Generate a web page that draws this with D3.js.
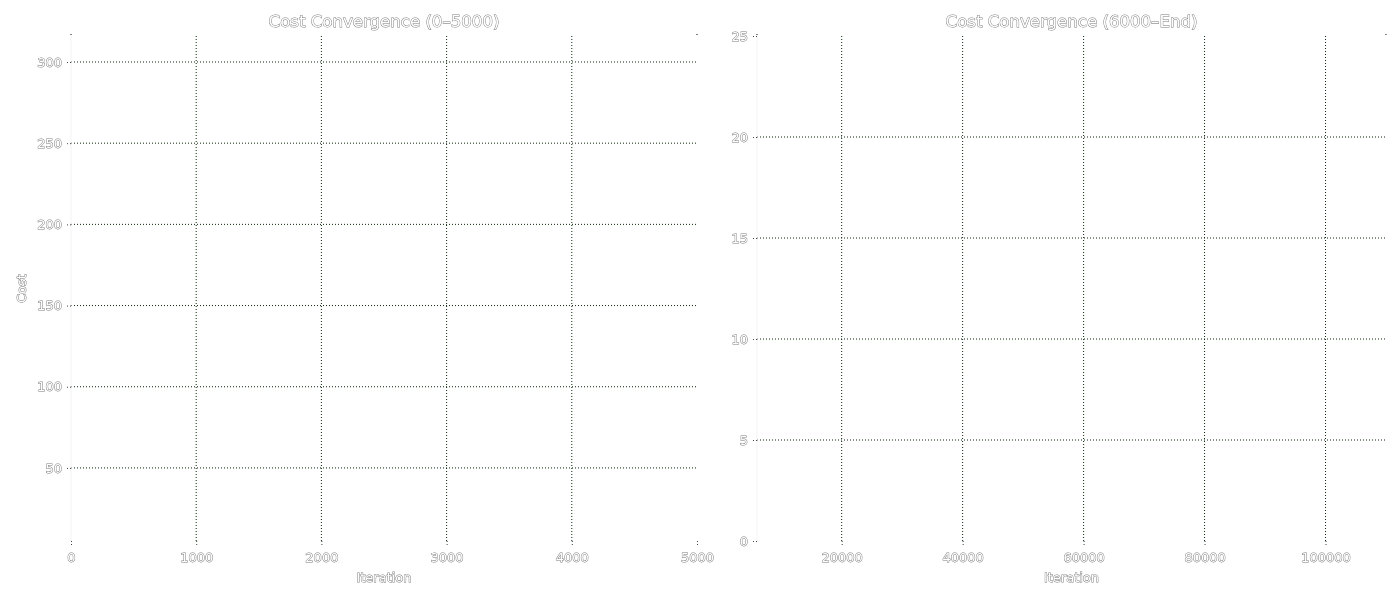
<!DOCTYPE html>
<html><head><meta charset="utf-8">
<script src="https://cdn.jsdelivr.net/npm/d3@7"></script>
<style>
body{margin:0;background:#fff;}
svg{will-change:transform;}
text{font-family:"DejaVu Sans",sans-serif;fill:#fff;stroke:#7a7a7a;stroke-width:0.95px;paint-order:stroke;opacity:0.99;}
</style></head><body>
<svg id="c" width="1400" height="600"></svg>
<script>
const leftTitle = "Cost Convergence (0–5000)";
const rightTitle = "Cost Convergence (6000–End)";
const xLabel = "Iteration";
const yLabel = "Cost";
const leftXDomain = [0, 5000];
const leftYDomain = [5, 316];
const leftXTicks = [0, 1000, 2000, 3000, 4000, 5000];
const leftYTicks = [50, 100, 150, 200, 250, 300];
const rightXDomain = [6000, 110000];
const rightYDomain = [0, 25];
const rightXTicks = [20000, 40000, 60000, 80000, 100000];
const rightYTicks = [0, 5, 10, 15, 20, 25];

const svg = d3.select("#c");
const gridColor = "#0a260a";

function panel(cfg){
  const {x0,x1,y0,y1} = cfg;
  const x = d3.scaleLinear().domain(cfg.xDomain).range([x0,x1]);
  const y = d3.scaleLinear().domain(cfg.yDomain).range([y1,y0]);
  const g = svg.append("g");
  g.selectAll(".vg").data(cfg.xTicks.filter(t=>x(t)>x0+1 && x(t)<x1-1)).join("line")
    .attr("x1",d=>x(d)).attr("x2",d=>x(d)).attr("y1",y0).attr("y2",y1)
    .attr("stroke",gridColor).attr("stroke-width",1).attr("stroke-dasharray","1,2");
  g.selectAll(".hg").data(cfg.yTicks.filter(t=>y(t)>y0+1 && y(t)<y1-1)).join("line")
    .attr("x1",x0).attr("x2",x1).attr("y1",d=>y(d)).attr("y2",d=>y(d))
    .attr("stroke",gridColor).attr("stroke-width",1).attr("stroke-dasharray","1,2");
  g.append("line").attr("x1",x0).attr("x2",x0).attr("y1",y0).attr("y2",y1).attr("stroke","#f4f4f4");
  const xa = g.append("g").attr("transform",`translate(0,${y1})`)
    .call(d3.axisBottom(x).tickValues(cfg.xTicks).tickFormat(d3.format("d")).tickSize(5).tickPadding(7));
  const ya = g.append("g").attr("transform",`translate(${x0},0)`)
    .call(d3.axisLeft(y).tickValues(cfg.yTicks).tickFormat(d3.format("d")).tickSize(5).tickPadding(4));
  [xa,ya].forEach(a=>{
    a.select(".domain").remove();
    a.selectAll(".tick line").attr("stroke","#444").attr("stroke-dasharray","1,2");
    a.selectAll(".tick text").style("font-size","13px").attr("fill",null);
  });
  g.selectAll(".cm").data([[x0,y0-2],[x1,y0-2]]).join("path")
    .attr("d",d=>`M${d[0]-1},${d[1]+1}L${d[0]},${d[1]}L${d[0]+1},${d[1]+1}`)
    .attr("fill","none").attr("stroke","#666").attr("stroke-width",0.8);
  g.append("text").attr("x",(x0+x1)/2).attr("y",27).attr("text-anchor","middle")
    .style("font-size","16.6px").text(cfg.title);
  g.append("text").attr("x",(x0+x1)/2).attr("y",582).attr("text-anchor","middle")
    .style("font-size","13px").text(xLabel);
  if(cfg.yLabel){
    g.append("text").attr("transform",`translate(26,${(y0+y1)/2}) rotate(-90)`)
      .attr("text-anchor","middle").style("font-size","13px").text(cfg.yLabel);
  }
}

panel({x0:71,x1:697,y0:36,y1:541,xDomain:leftXDomain,yDomain:leftYDomain,
  xTicks:leftXTicks,yTicks:leftYTicks,title:leftTitle,yLabel:yLabel});
panel({x0:757,x1:1386,y0:36,y1:541,xDomain:rightXDomain,yDomain:rightYDomain,
  xTicks:rightXTicks,yTicks:rightYTicks,title:rightTitle,yLabel:null});
</script></body></html>
